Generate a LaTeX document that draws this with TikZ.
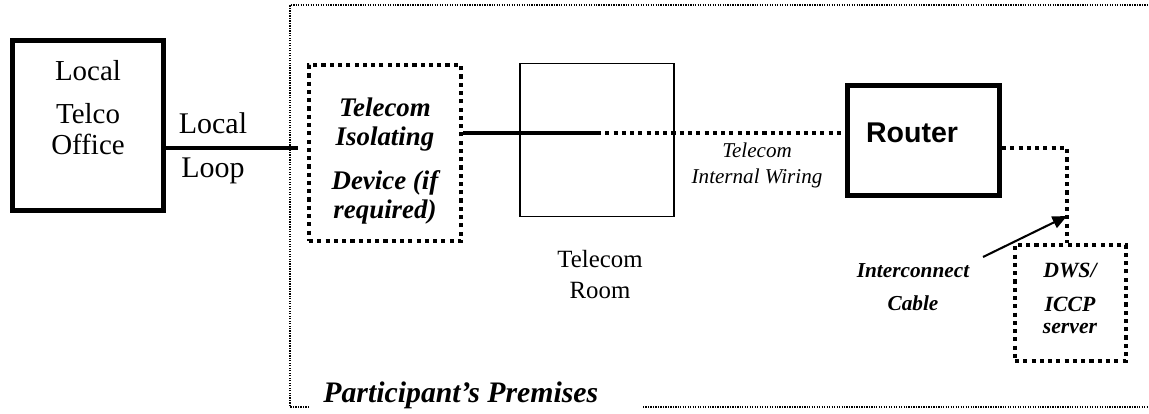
\documentclass[tikz,border=0pt]{standalone}
\usepackage{fontspec}
\setmainfont{Liberation Serif}
\newfontfamily\arialfont{Liberation Sans}
\usetikzlibrary{positioning,arrows.meta}

\begin{document}
\begin{tikzpicture}[
    x=0.017cm, y=-0.017cm,
    solidbox/.style={
        rectangle,
        draw,
        line width=2.4pt,
        inner sep=0pt
    },
    thinbox/.style={
        rectangle,
        draw,
        line width=0.8pt,
        inner sep=0pt
    },
    dotbox/.style={
        rectangle,
        draw,
        line width=2pt,
        dash pattern=on 2pt off 2pt,
        inner sep=0pt
    },
    txt/.style={
        anchor=base,
        inner sep=0pt
    },
    wire/.style={
        draw,
        line width=2pt
    },
    dotwire/.style={
        draw,
        line width=2pt,
        dash pattern=on 2pt off 2pt
    },
    frame/.style={
        draw,
        line width=0.6pt,
        dash pattern=on 0.6pt off 0.6pt
    },
    pointer/.style={
        draw,
        line width=1pt,
        -{Triangle[length=7pt,width=6pt]}
    }
]
    \useasboundingbox (0,0) rectangle (1149,413);

    % Premises boundary
    \draw [frame] (309,407) -- (290,407) -- (290,5) -- (1149,5);
    \draw [frame] (643,407) -- (1149,407);

    % Boxes
    \node [solidbox, minimum width=73pt, minimum height=82pt] (telco) at (88,125.5) {};
    \node [dotbox, minimum width=73.5pt, minimum height=85pt] (tid) at (385,153) {};
    \node [thinbox, minimum width=74.5pt, minimum height=74pt] (room) at (597,140) {};
    \node [solidbox, minimum width=73.5pt, minimum height=53pt] (router) at (923.5,140.5) {};
    \node [dotbox, minimum width=53.7pt, minimum height=56pt] (dws) at (1070.5,303) {};

    % Texts
    \node [txt, font=\fontsize{14}{16}\selectfont] (telco1) at (88,80) {Local};
    \node [txt, font=\fontsize{14}{16}\selectfont] (telco2) at (88,123) {Telco};
    \node [txt, font=\fontsize{14}{16}\selectfont] (telco3) at (88,154) {Office};

    \node [txt, font=\fontsize{14.5}{16}\selectfont] (loop1) at (213,133) {Local};
    \node [txt, font=\fontsize{14.5}{16}\selectfont] (loop2) at (213,177) {Loop};

    \node [txt, font=\fontsize{13}{15}\selectfont\bfseries\itshape] (tid1) at (385,116) {Telecom};
    \node [txt, font=\fontsize{13}{15}\selectfont\bfseries\itshape] (tid2) at (385,145) {Isolating};
    \node [txt, font=\fontsize{13}{15}\selectfont\bfseries\itshape] (tid3) at (385,189) {Device (if};
    \node [txt, font=\fontsize{13}{15}\selectfont\bfseries\itshape] (tid4) at (385,218) {required)};

    \node [txt, font=\fontsize{12}{14}\selectfont] (room1) at (600,267) {Telecom};
    \node [txt, font=\fontsize{12}{14}\selectfont] (room2) at (600,298) {Room};

    \node [txt, font=\fontsize{10.2}{12}\selectfont\itshape] (wiring1) at (757,157) {Telecom};
    \node [txt, font=\fontsize{10.2}{12}\selectfont\itshape] (wiring2) at (757,183) {Internal Wiring};

    \node [txt, font=\arialfont\fontsize{13.8}{16}\selectfont\bfseries] (routerlbl) at (912,142) {Router};

    \node [txt, font=\fontsize{10.3}{12}\selectfont\bfseries\itshape] (cable1) at (913,277) {Interconnect};
    \node [txt, font=\fontsize{10.3}{12}\selectfont\bfseries\itshape] (cable2) at (913,310) {Cable};

    \node [txt, font=\fontsize{10.5}{12}\selectfont\bfseries\itshape] (dws1) at (1070,277) {DWS/};
    \node [txt, font=\fontsize{10.5}{12}\selectfont\bfseries\itshape] (dws2) at (1070,311) {ICCP};
    \node [txt, font=\fontsize{10.5}{12}\selectfont\bfseries\itshape] (dws3) at (1070,333) {server};

    \node [txt, anchor=base west, font=\fontsize{14.4}{16}\selectfont\bfseries\itshape] (premises) at (323,402) {Participant's Premises};

    % Wiring
    \coordinate (loopend) at (298,148);
    \coordinate (roomjoin) at (597,133);
    \coordinate (corner) at (1067,148);
    \coordinate (cablept) at (1067,216);
    \coordinate (cabletail) at (983,257);

    \path [wire] (telco.east |- loopend) -- (loopend);
    \path [wire] (tid.east |- roomjoin) -- (roomjoin);
    \path [dotwire] (roomjoin) -- (router.west |- roomjoin);
    \path [dotwire] (router.east |- corner) -- (corner) -- (corner |- dws.north);
    \path [pointer] (cabletail) -- (cablept);

\end{tikzpicture}
\end{document}
